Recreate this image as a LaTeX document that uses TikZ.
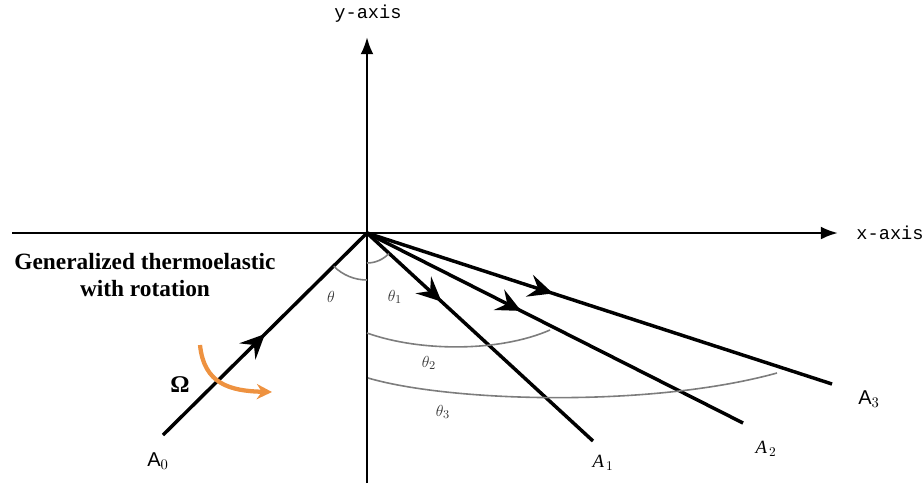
\documentclass[tikz,border=0pt]{standalone}
\usepackage{fontspec}
\setmainfont{Liberation Serif}
\setmonofont{Liberation Mono}
\setsansfont{Liberation Sans}
\usetikzlibrary{arrows.meta,decorations.markings}
\definecolor{oc}{RGB}{238,146,64}
\definecolor{gc}{RGB}{125,125,125}
\tikzset{ax/.style={line width=2pt,-{Latex[length=4.5mm,width=3.4mm]}},
 ray/.style={line width=2.6pt},
 mk/.style={postaction={decorate},decoration={markings,mark=at position #1 with {\arrow{Stealth[length=6.5mm,width=6mm,inset=2.4mm]}}}},
 ang/.style={draw=gc,line width=1.2pt},
 lab/.style={font=\fontsize{14}{14}\selectfont\ttfamily},
 th/.style={font=\fontsize{13}{13}\selectfont\itshape,text=black!80},
 ak/.style={font=\fontsize{15}{15}\selectfont\sffamily},
 ai/.style={font=\fontsize{14}{14}\selectfont\itshape},
 every node/.style={inner sep=0pt}}
\begin{document}
\begin{tikzpicture}[x=0.75pt,y=-0.75pt]
\useasboundingbox (0,0) rectangle (924,486);
\coordinate (O) at (367,233);
\coordinate (xl) at (12,233);\coordinate (xr) at (838,233);
\coordinate (yb) at (367,483);\coordinate (yt) at (367,37);
\coordinate (e0) at (163,435);\coordinate (e1) at (593,441);
\coordinate (e2) at (743,423);\coordinate (e3) at (832,384);
% axes
\draw[ax] (xl)--(xr);\draw[ax] (yb)--(yt);
\node[lab] (xa) at (890,233) {x-axis};
\node[lab] (ya) at (368,14) {y-axis};
% incident and reflected rays
\draw[ray,mk=0.50] (e0)--(O);
\draw[ray,mk=0.33] (O)--(e1);
\draw[ray,mk=0.41] (O)--(e2);
\draw[ray,mk=0.40] (O)--(e3);
% angles
\draw[ang] (O) ++(90:47) arc[start angle=90,end angle=135,radius=47];
\draw[ang] (O) ++(90:30) arc[start angle=90,end angle=43,radius=30];
\draw[ang] (367,333) .. controls (420,352) and (500,352) .. (550,330);
\draw[ang] (368,378) .. controls (450,402) and (650,408) .. (777,373);
\node[th] (t0) at (331,297) {$\theta$};
\node[th] (t1) at (395,297) {$\theta_1$};
\node[th] (t2) at (429,363) {$\theta_2$};
\node[th] (t3) at (443,412) {$\theta_3$};
% end labels
\node[ak] (a0) at (158,461) {A$_0$};
\node[ai] (a1) at (603,463) {A$_{\,1}$};
\node[ai] (a2) at (766,449) {A$_{\,2}$};
\node[ak] (a3) at (869,399) {A$_3$};
% medium and rotation
\node[font=\fontsize{17.5}{20}\selectfont\bfseries,align=center] (med) at (145,275) {Generalized thermoelastic\\with rotation};
\node[font=\fontsize{18}{18}\selectfont\bfseries] (om) at (180,385) {Ω};
\draw[oc,line width=3.2pt,-{Stealth[length=4mm,width=4mm]}] (200,345) .. controls (204,384) and (230,391) .. (272,392);
\end{tikzpicture}
\end{document}
